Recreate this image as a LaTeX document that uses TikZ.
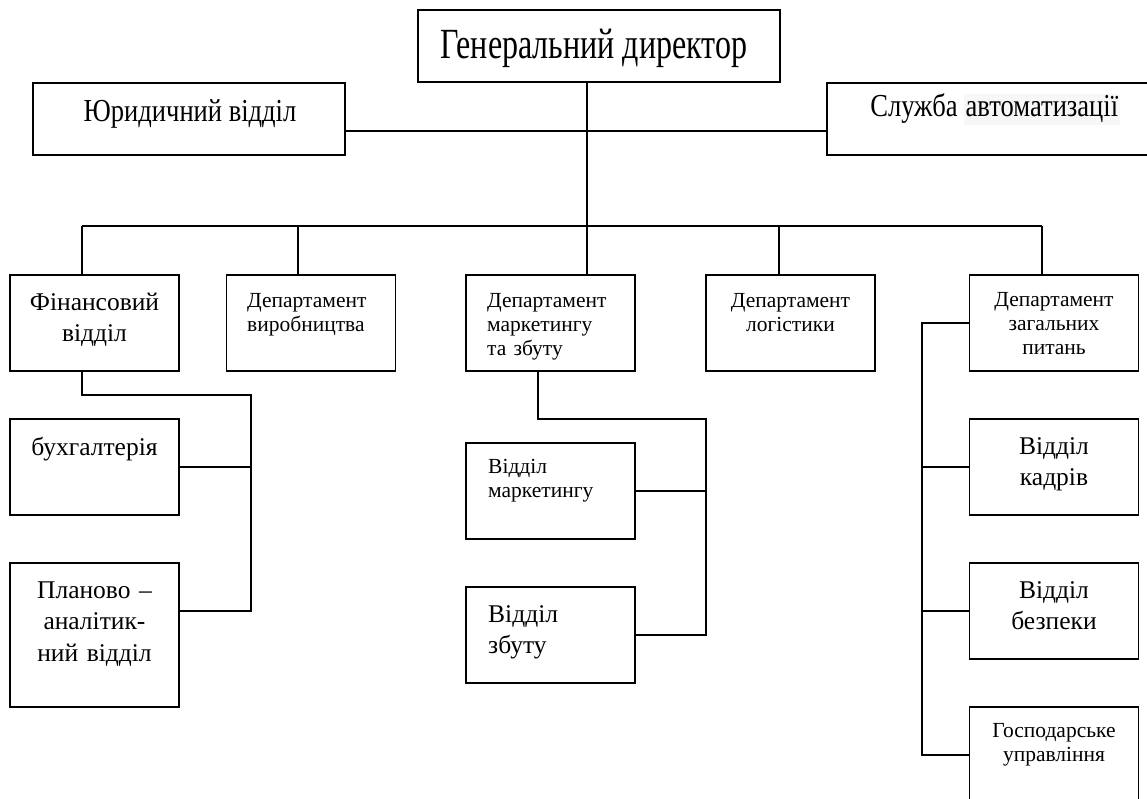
\documentclass[tikz,border=0pt]{standalone}
\usepackage{fontspec}
\setmainfont{Liberation Serif}
\newfontfamily\narrowfont[FakeStretch=0.745]{Liberation Serif}
\newfontfamily\sidefont[FakeStretch=0.83]{Liberation Serif}
\tikzset{
  unit/.style={draw, line width=1.8pt, inner sep=0pt, minimum width=169pt, minimum height=96pt},
  ctext/.style={inner sep=0pt, text width=165pt, align=center, anchor=base},
  ltext/.style={inner sep=0pt, text width=145pt, align=left, anchor=base west},
  big/.style={font=\fontsize{25.5}{31.5}\selectfont},
  small/.style={font=\fontsize{21.5}{24}\selectfont},
  link/.style={line width=1.8pt}
}
\begin{document}
\begin{tikzpicture}[x=1pt, y=-1pt]
\path[use as bounding box, fill=white] (0,0) rectangle (1147,799);

\node[unit, minimum width=362pt, minimum height=72pt] (top) at (599,46) {};
\node[inner sep=0pt, anchor=base, font=\narrowfont\fontsize{43}{50}\selectfont] (topl) at (594,59) {Генеральний директор};
\node[unit, minimum width=312pt, minimum height=72pt] (jur) at (189,119) {};
\node[inner sep=0pt, anchor=base, font=\sidefont\fontsize{32}{38}\selectfont] (jurl) at (190,122) {Юридичний відділ};
\node[unit, minimum width=336pt, minimum height=72pt] (sl) at (995,119) {};
\node[inner sep=0pt, anchor=base, font=\sidefont\fontsize{32}{38}\selectfont] (sll) at (995,117) {Служба \setlength\fboxsep{1.5pt}\colorbox{black!3}{автоматизації}};

\node[unit] (fin) at (94.5,323) {};
\node[ctext, big] (finl) at (94.5,310) {Фінансовий\\відділ};
\node[unit] (vyr) at (311,323) {};
\node[ltext, small] (vyrl) at (247,307) {Департамент\\виробництва};
\node[unit] (mark) at (550.5,323) {};
\node[ltext, small] (markl) at (487,307) {Департамент\\маркетингу\\та збуту};
\node[unit] (log) at (790.5,323) {};
\node[ctext, small] (logl) at (790.5,307) {Департамент\\логістики};
\node[unit] (zag) at (1054,323) {};
\node[ctext, small] (zagl) at (1054,306) {Департамент\\загальних\\питань};

\node[unit] (buh) at (94.5,467) {};
\node[ctext, big] (buhl) at (94.5,455) {бухгалтерія};
\node[unit, minimum height=144pt] (plan) at (94.5,635) {};
\node[ctext, big] (planl) at (94.5,598) {Планово –\\аналітик-\\ний відділ};

\node[unit] (vm) at (550.5,491) {};
\node[ltext, small] (vml) at (488,473) {Відділ\\маркетингу};
\node[unit] (vz) at (550.5,635) {};
\node[ltext, big] (vzl) at (488,622) {Відділ\\збуту};

\node[unit] (kadr) at (1054,467) {};
\node[ctext, big] (kadrl) at (1054,454) {Відділ\\кадрів};
\node[unit] (bezp) at (1054,611) {};
\node[ctext, big] (bezpl) at (1054,598) {Відділ\\безпеки};
\node[unit] (gosp) at (1054,755) {};
\node[ctext, small] (gospl) at (1054,737) {Господарське\\управління};

\coordinate (mid) at (587,131);
\coordinate (b1) at (82,226);
\coordinate (b2) at (298,226);
\coordinate (b3) at (587,226);
\coordinate (b4) at (779,226);
\coordinate (b5) at (1042,226);
\coordinate (f1) at (251,395);
\coordinate (f2) at (251,611);
\coordinate (m1) at (538,419);
\coordinate (m2) at (706,635);
\coordinate (z1) at (922,755);

\draw[link] (b3 |- top.south) -- (b3);
\draw[link] (jur.east |- mid) -- (sl.west |- mid);
\draw[link] (b1) -- (b5);
\foreach \b/\n in {b1/fin, b2/vyr, b3/mark, b4/log, b5/zag}
  \draw[link] (\b) -- (\b |- \n.north);

\draw[link] (b1 |- fin.south) |- (f1) -- (f2) -- (f2 -| plan.east);
\draw[link] (buh.east) -- (buh.east -| f1);

\draw[link] (m1 |- mark.south) -- (m1) -| (m2) -- (vz.east);
\draw[link] (vm.east) -- (vm.east -| m2);

\draw[link] (zag.west) -| (z1) -- (gosp.west);
\draw[link] (kadr.west) -- (kadr.west -| z1);
\draw[link] (bezp.west) -- (bezp.west -| z1);
\end{tikzpicture}
\end{document}
